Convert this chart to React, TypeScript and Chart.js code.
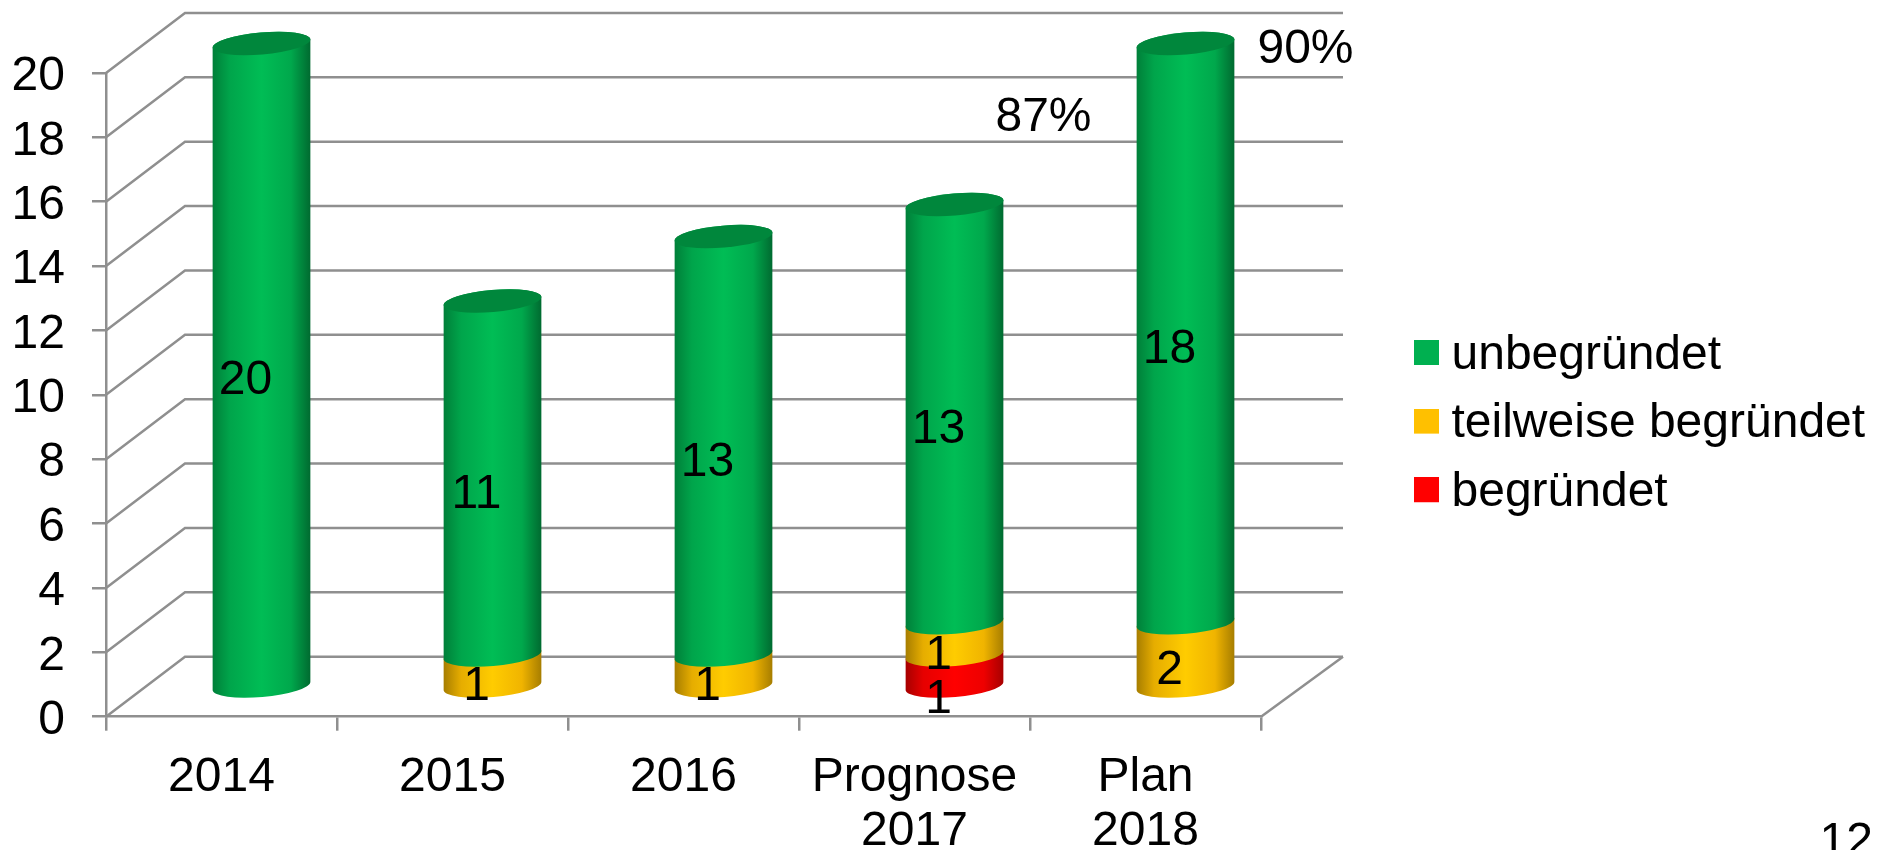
import React, { useEffect, useRef } from "react";
import { Chart, registerables } from "chart.js";

Chart.register(...registerables);

const categories: (string | string[])[] = ["2014", "2015", "2016", ["Prognose", "2017"], ["Plan", "2018"]];
const begruendet = [0, 0, 0, 1, 0];
const teilweise = [0, 1, 1, 1, 2];
const unbegruendet = [20, 11, 13, 13, 18];
const yTicks = { min: 0, max: 20, step: 2 };
const percentNotes = [
  { text: "87%", category: 3 },
  { text: "90%", category: 4 },
];
const pageNumber = "12";

const FONT = "'Liberation Sans', Arial, sans-serif";
const FONT_SIZE = 48;
const GRID = "#8f8f8f";
const DEPTH_X = 80;
const DEPTH_Y = 60;

const shades: Record<string, { edgeL: string; midL: string; mid: string; midR: string; edgeR: string; top?: string }> = {
  "#00B050": { edgeL: "#007f39", midL: "#00a54b", mid: "#00bd55", midR: "#00a84c", edgeR: "#006a30", top: "#00873c" },
  "#FFC000": { edgeL: "#a67d00", midL: "#e6ad00", mid: "#ffcc00", midR: "#f0b400", edgeR: "#a67d00" },
  "#FF0000": { edgeL: "#a60000", midL: "#e60000", mid: "#ff0000", midR: "#ee0000", edgeR: "#a60000" },
};

function legendSwatch(color: string) {
  const c = document.createElement("canvas");
  c.width = 25;
  c.height = 31;
  const g = c.getContext("2d")!;
  g.fillStyle = color;
  g.fillRect(0, 0, 25, 25);
  return c;
}

const wall3d = {
  id: "wall3d",
  beforeDatasetsDraw(chart: any) {
    const { ctx, scales, chartArea } = chart;
    const y = scales.y;
    ctx.save();
    ctx.strokeStyle = GRID;
    ctx.lineWidth = 2.5;
    for (let v = yTicks.min; v <= yTicks.max; v += yTicks.step) {
      const py = y.getPixelForValue(v);
      ctx.beginPath();
      ctx.moveTo(chartArea.left, py);
      ctx.lineTo(chartArea.left + DEPTH_X - 1, py - DEPTH_Y);
      ctx.lineTo(chartArea.right + DEPTH_X + 2, py - DEPTH_Y);
      ctx.stroke();
    }
    const p0 = y.getPixelForValue(0);
    ctx.beginPath();
    ctx.moveTo(chartArea.right, p0);
    ctx.lineTo(chartArea.right + DEPTH_X + 2, p0 - DEPTH_Y);
    ctx.stroke();
    ctx.restore();
  },
};

const cylinders = {
  id: "cylinders",
  beforeDatasetsDraw(chart: any) {
    const { ctx, data } = chart;
    const lastDs = data.datasets.length - 1;
    data.datasets.forEach((ds: any, d: number) => {
      const s = shades[ds.backgroundColor as string];
      chart.getDatasetMeta(d).data.forEach((bar: any, i: number) => {
        const value = ds.data[i];
        if (!value) return;
        const cx = bar.x + DEPTH_X / 2;
        const rx = bar.width / 2 + 0.3;
        const ry = 11;
        const rot = -0.086;
        const yb = bar.base - DEPTH_Y / 2 + 0.5;
        const yt = bar.y - DEPTH_Y / 2 + 0.5;
        const grad = ctx.createLinearGradient(cx - rx, 0, cx + rx, 0);
        grad.addColorStop(0, s.edgeL);
        grad.addColorStop(0.18, s.midL);
        grad.addColorStop(0.5, s.mid);
        grad.addColorStop(0.8, s.midR);
        grad.addColorStop(1, s.edgeR);
        ctx.save();
        ctx.fillStyle = grad;
        ctx.beginPath();
        ctx.ellipse(cx, yb, rx, ry, rot, Math.PI, 0, true);
        ctx.ellipse(cx, yt, rx, ry, rot, 0, Math.PI, true);
        ctx.closePath();
        ctx.fill();
        if (d === lastDs && s.top) {
          ctx.fillStyle = s.top;
          ctx.beginPath();
          ctx.ellipse(cx, yt, rx, ry, rot, 0, Math.PI * 2);
          ctx.fill();
        }
        ctx.restore();
      });
    });
  },
  beforeDatasetDraw() {
    return false;
  },
};

const textMarks = {
  id: "textMarks",
  afterDatasetsDraw(chart: any) {
    const { ctx, data, scales } = chart;
    ctx.save();
    ctx.fillStyle = "#000";
    ctx.font = `${FONT_SIZE}px ${FONT}`;
    ctx.textAlign = "center";
    ctx.textBaseline = "middle";
    data.datasets.forEach((ds: any, d: number) => {
      chart.getDatasetMeta(d).data.forEach((bar: any, i: number) => {
        const value = ds.data[i];
        if (!value) return;
        const drop = ds.label === "begründet" ? 30 : 17;
        const mid = (bar.y + bar.base) / 2;
        ctx.fillText(String(value), bar.x + DEPTH_X / 2 - 16, mid - DEPTH_Y / 2 + drop);
      });
    });
    percentNotes.forEach((n) => {
      const x = scales.x.getPixelForValue(n.category);
      const top = n.category === 3 ? 118 : 50;
      ctx.fillText(n.text, x + (n.category === 3 ? 129 : 160), top);
    });
    ctx.textAlign = "right";
    ctx.fillText(pageNumber, 1873, 843);
    ctx.restore();
  },
};

const legendPlace = {
  id: "legendPlace",
  beforeLayout(chart: any) {
    const l = chart.legend;
    if (l && !l.__wrapped) {
      const fit = l.fit;
      l.fit = function () {
        fit.call(this);
        this.width = 625;
      };
      l.__wrapped = true;
    }
  },
  afterLayout(chart: any) {
    const l = chart.legend;
    const pad = l.options.labels.padding;
    l.left = 1425.5 - pad;
    l.right = 1886;
    l.top = 331.5 - pad;
    l.bottom = 850;
  },
};

export default function App() {
  const ref = useRef<HTMLCanvasElement>(null);
  useEffect(() => {
    const chart = new Chart(ref.current!, {
      type: "bar",
      data: {
        labels: categories,
        datasets: [
          { label: "begründet", data: begruendet, backgroundColor: "#FF0000" },
          { label: "teilweise begründet", data: teilweise, backgroundColor: "#FFC000" },
          { label: "unbegründet", data: unbegruendet, backgroundColor: "#00B050" },
        ],
      },
      options: {
        responsive: false,
        animation: false,
        devicePixelRatio: 1,
        layout: { autoPadding: false, padding: { top: 73, left: 0, right: 0, bottom: 0 } },
        datasets: { bar: { barPercentage: 1, categoryPercentage: 0.422 } },
        plugins: {
          tooltip: { enabled: false },
          title: { display: false },
          legend: {
            display: true,
            position: "right",
            align: "start",
            reverse: true,
            labels: {
              color: "#000",
              font: { family: FONT, size: FONT_SIZE },
              boxWidth: 2,
              boxHeight: 25,
              padding: 20.6,
              usePointStyle: true,
              generateLabels(c: any) {
                const items = Chart.defaults.plugins.legend.labels.generateLabels(c);
                return items.map((it: any) => ({ ...it, pointStyle: legendSwatch(it.fillStyle), lineWidth: 0 }));
              },
            },
          },
        },
        scales: {
          x: {
            stacked: true,
            afterFit(s: any) {
              s.height = 850 - 716.7 - 0;
            },
            grid: { drawOnChartArea: false, color: GRID, lineWidth: 2.5, tickLength: 14, tickColor: GRID },
            border: { color: GRID, width: 2.5 },
            ticks: {
              color: "#000",
              font: { family: FONT, size: FONT_SIZE, lineHeight: 1.125 },
              padding: 20,
              autoSkip: false,
              maxRotation: 0,
              minRotation: 0,
            },
          },
          y: {
            stacked: true,
            min: yTicks.min,
            max: yTicks.max,
            afterFit(s: any) {
              s.width = 106;
            },
            grid: { drawOnChartArea: false, color: GRID, lineWidth: 2.5, tickLength: 14, tickColor: GRID },
            border: { color: GRID, width: 2.5 },
            ticks: {
              stepSize: yTicks.step,
              color: "#000",
              font: { family: FONT, size: FONT_SIZE },
              padding: 27,
              labelOffset: 4,
            },
          },
        },
      },
      plugins: [legendPlace, wall3d, cylinders, textMarks],
    } as any);
    return () => chart.destroy();
  }, []);
  return (
    <div style={{ position: "fixed", left: 0, top: 0, width: 1886, height: 850, background: "#fff", overflow: "hidden" }}>
      <canvas ref={ref} width={1886} height={850} style={{ display: "block" }} />
    </div>
  );
}
